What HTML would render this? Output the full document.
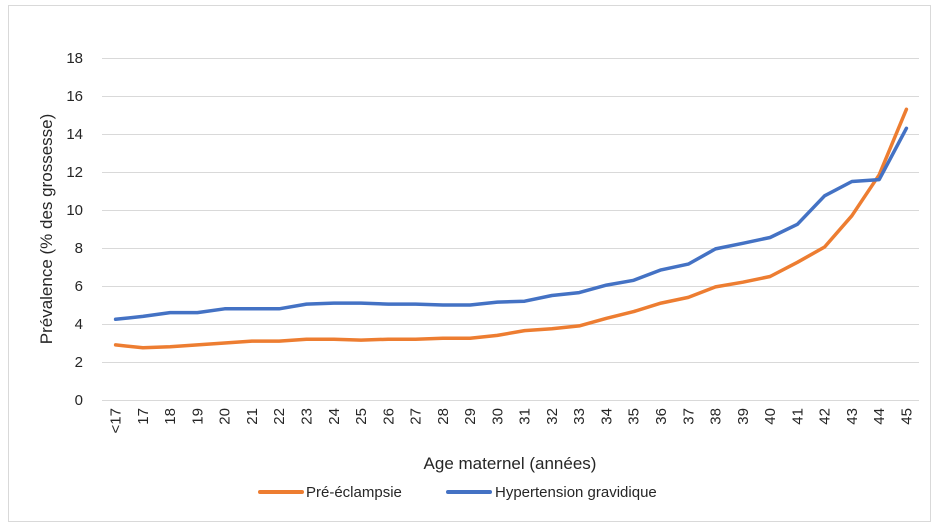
<!DOCTYPE html>
<html><head><meta charset="utf-8"><style>
body{margin:0;background:#fff;}
svg text{font-family:"Liberation Sans",sans-serif;fill:#262626;}
</style></head><body>
<svg width="936" height="526" viewBox="0 0 936 526" xmlns="http://www.w3.org/2000/svg">
<rect x="8.5" y="5.5" width="922" height="516" fill="#fff" stroke="#d9d9d9" stroke-width="1"/>
<g id="grid" stroke="#d9d9d9" stroke-width="1"></g>
<g id="yl" font-size="15" text-anchor="end"></g>
<g id="xl" font-size="15"></g>
<text x="52" y="229" font-size="17" text-anchor="middle" transform="rotate(-90 52 229)">Prévalence (% des grossesse)</text>
<text x="510" y="469" font-size="17" text-anchor="middle">Age maternel (années)</text>
<line x1="260" y1="492" x2="302" y2="492" stroke="#ed7d31" stroke-width="4" stroke-linecap="round"/>
<text x="306" y="497" font-size="15">Pré-éclampsie</text>
<line x1="448" y1="492" x2="490" y2="492" stroke="#4472c4" stroke-width="4" stroke-linecap="round"/>
<text x="495" y="497" font-size="15">Hypertension gravidique</text>
<polyline id="o" fill="none" stroke="#ed7d31" stroke-width="3.5" stroke-linejoin="round" stroke-linecap="round"/>
<polyline id="b" fill="none" stroke="#4472c4" stroke-width="3.5" stroke-linejoin="round" stroke-linecap="round"/>
</svg>
<script>
var ns="http://www.w3.org/2000/svg";
function Y(v){return 400-v*19;}
function X(i){return 115.6+i*27.27;}
var g=document.getElementById('grid'),yl=document.getElementById('yl'),xl=document.getElementById('xl');
for(var v=0;v<=18;v+=2){var l=document.createElementNS(ns,'line');l.setAttribute('x1',102);l.setAttribute('x2',919);l.setAttribute('y1',Y(v)+0.5);l.setAttribute('y2',Y(v)+0.5);g.appendChild(l);
var t=document.createElementNS(ns,'text');t.setAttribute('x',83);t.setAttribute('y',Y(v)+5);t.textContent=v;yl.appendChild(t);}
var labs=['<17'];for(var a=17;a<=45;a++)labs.push(''+a);
labs.forEach(function(s,i){var t=document.createElementNS(ns,'text');var x=X(i)+5,y=408;t.setAttribute('x',x);t.setAttribute('y',y);t.setAttribute('text-anchor','end');t.setAttribute('transform','rotate(-90 '+x+' '+y+')');t.textContent=s;xl.appendChild(t);});
var o=[2.9,2.75,2.8,2.9,3.0,3.1,3.1,3.2,3.2,3.15,3.2,3.2,3.25,3.25,3.4,3.65,3.75,3.9,4.3,4.65,5.1,5.4,5.95,6.2,6.5,7.25,8.05,9.7,11.85,15.3];
var b=[4.25,4.4,4.6,4.6,4.8,4.8,4.8,5.05,5.1,5.1,5.05,5.05,5.0,5.0,5.15,5.2,5.5,5.65,6.05,6.3,6.85,7.15,7.95,8.25,8.55,9.25,10.75,11.5,11.6,14.3];
function pts(a){return a.map(function(v,i){return X(i).toFixed(1)+','+Y(v).toFixed(1);}).join(' ');}
document.getElementById('o').setAttribute('points',pts(o));
document.getElementById('b').setAttribute('points',pts(b));
</script>
</body></html>
